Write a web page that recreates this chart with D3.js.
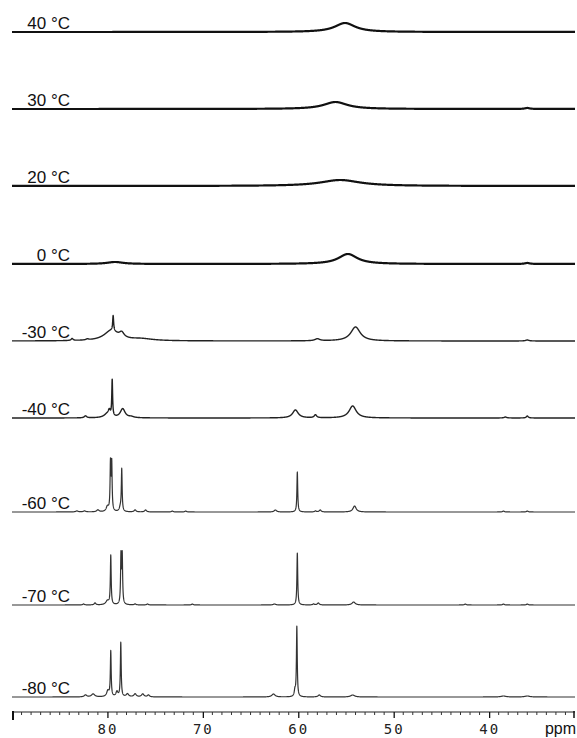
<!DOCTYPE html>
<html>
<head>
<meta charset="utf-8">
<script src="https://cdn.jsdelivr.net/npm/d3@7"></script>
<style>
  html, body { margin: 0; padding: 0; background: #fff; }
  svg { display: block; }
</style>
</head>
<body>
<svg id="chart" width="577" height="738"></svg>
<script>
// ── Datos: espectros apilados, de abajo (-80 °C) hacia arriba (40 °C) ──
const temps   = ["-80 °C", "-70 °C", "-60 °C", "-40 °C", "-30 °C", "0 °C", "20 °C", "30 °C", "40 °C"];
const offsets = [0, 92, 185, 279, 356, 433, 511, 588, 665]; // desplazamiento vertical (intensidad)

// cada pico: [ppm, altura, semi-ancho ppm]
const peaksM80 = [
  [82.3, 2, 0.15], [81.5, 3, 0.2], [79.95, 6, 0.15], [79.65, 45, 0.05], [79.0, 5, 0.12],
  [78.6, 54, 0.05], [77.9, 3, 0.15], [77.1, 3, 0.15], [76.3, 3, 0.15], [75.7, 2, 0.12],
  [62.6, 3, 0.2], [60.35, 6, 0.08], [60.15, 70, 0.05], [57.8, 2, 0.15], [54.3, 2, 0.25],
  [38.5, 1, 0.3], [36.0, 1, 0.3]
];
const peaksM70 = [
  [82.5, 1, 0.1], [81.3, 2, 0.1], [80.0, 4, 0.2], [79.65, 49, 0.05], [78.58, 48, 0.05],
  [78.45, 48, 0.05], [77.1, 1, 0.1], [75.8, 1, 0.1], [71.1, 1, 0.1], [62.5, 1, 0.15],
  [60.1, 52, 0.05], [58.4, 1, 0.1], [57.9, 2, 0.12], [54.2, 3, 0.2], [42.5, 1, 0.1],
  [38.5, 1, 0.1], [36.0, 1, 0.1]
];
const peaksM60 = [
  [83.2, 1, 0.15], [82.4, 1, 0.15], [81.0, 2, 0.15], [80.0, 5, 0.15], [79.68, 47, 0.05],
  [79.55, 47, 0.05], [78.65, 4, 0.12], [78.5, 42, 0.05], [77.1, 2, 0.12], [76.0, 2, 0.12],
  [73.2, 1, 0.1], [71.8, 1, 0.1], [62.4, 2, 0.15], [60.1, 40, 0.05], [58.2, 1, 0.1],
  [57.7, 2, 0.12], [54.1, 6, 0.2], [38.5, 1, 0.1], [36.0, 1, 0.1]
];
const peaksM40 = [
  [82.3, 2, 0.15], [80.0, 4, 0.4], [79.8, 5, 0.12], [79.5, 36, 0.05], [78.4, 9, 0.3],
  [77.5, 1, 0.3], [60.3, 8, 0.35], [58.2, 3, 0.15], [54.3, 12, 0.45], [38.3, 1, 0.15],
  [36.0, 2, 0.12]
];
const peaksM30 = [
  [83.7, 2, 0.12], [82.1, 1, 0.15], [79.6, 10, 0.9], [79.4, 15, 0.06], [78.5, 5, 0.3],
  [76.5, 2, 1.5], [58.0, 2, 0.3], [54.0, 14, 0.6], [36.0, 1, 0.2]
];
const peaks0   = [[79.2, 2, 1.0], [54.8, 10, 1.2], [36.0, 1, 0.3]];
const peaks20  = [[55.6, 6, 2.5]];
const peaks30  = [[56.1, 7, 1.5], [36.0, 1, 0.3]];
const peaks40  = [[55.1, 9, 1.3]];

const allPeaks = [peaksM80, peaksM70, peaksM60, peaksM40, peaksM30, peaks0, peaks20, peaks30, peaks40];

const ppmDomain = [90, 31];
const majorTicks = [80, 70, 60, 50, 40];

// ── Escalas ──
const svg = d3.select("#chart");
const x = d3.scaleLinear().domain(ppmDomain).range([12, 575]);
const y = d3.scaleLinear().domain([0, 665]).range([697, 32]);

// forma de línea lorentziana a partir de la lista de picos
const grid = d3.range(ppmDomain[1], ppmDomain[0] + 0.001, 0.01);
function spectrum(peaks) {
  return grid.map(p => [p, d3.sum(peaks, ([c, h, w]) => h / (1 + ((p - c) / w) ** 2))]);
}

const line = d3.line().x(d => x(d[0])).y(d => d[1]);

// ── Trazas ──
const traces = svg.append("g").selectAll("g")
  .data(temps.map((t, i) => ({ label: t, off: offsets[i], peaks: allPeaks[i], i })))
  .join("g");

traces.append("path")
  .attr("fill", "none")
  .attr("stroke", d => d.i >= 5 ? "#111" : (d.i >= 3 ? "#222" : "#333"))
  .attr("stroke-width", d => d.i >= 5 ? 2.2 : (d.i >= 3 ? 1.4 : 1.2))
  .attr("stroke-linejoin", "round")
  .attr("d", d => line(spectrum(d.peaks).map(([p, v]) => [p, y(d.off + v)])));

traces.append("text")
  .attr("x", 70)
  .attr("y", d => y(d.off) - 3)
  .attr("text-anchor", "end")
  .attr("font-family", "'Liberation Sans', Arial, sans-serif")
  .attr("font-size", 17)
  .attr("fill", "#111")
  .text(d => d.label);

// ── Eje ppm ──
const axisY = 712;
const axisG = svg.append("g").attr("transform", `translate(0,${axisY})`);

axisG.append("line")
  .attr("x1", x(ppmDomain[0])).attr("x2", x(ppmDomain[1]))
  .attr("stroke", "#222").attr("stroke-width", 1.2);

// marcas menores
axisG.append("g").selectAll("line")
  .data(d3.range(32, 90, 1).filter(v => !majorTicks.includes(v)))
  .join("line")
  .attr("x1", d => x(d)).attr("x2", d => x(d))
  .attr("y1", 0).attr("y2", 3)
  .attr("stroke", "#333").attr("stroke-width", 1);

axisG.append("g")
  .call(d3.axisBottom(x).tickValues(majorTicks).tickSize(6).tickFormat(d3.format("d")))
  .call(g => g.select(".domain").remove())
  .call(g => g.selectAll(".tick line").attr("stroke", "#111").attr("stroke-width", 1.3))
  .call(g => g.selectAll(".tick text")
    .attr("y", 22).attr("dy", 0)
    .attr("font-family", "'DejaVu Sans Mono', monospace")
    .attr("font-size", 14)
    .attr("letter-spacing", "2px")
    .attr("fill", "#222"));

// marcas de los extremos
axisG.append("line")
  .attr("x1", x(ppmDomain[0]) + 1).attr("x2", x(ppmDomain[0]) + 1)
  .attr("y1", -1).attr("y2", 8)
  .attr("stroke", "#111").attr("stroke-width", 2);
axisG.append("line")
  .attr("x1", x(ppmDomain[1]) - 1).attr("x2", x(ppmDomain[1]) - 1)
  .attr("y1", -1).attr("y2", 6)
  .attr("stroke", "#111").attr("stroke-width", 1.5);

axisG.append("text")
  .attr("x", 576).attr("y", 22)
  .attr("text-anchor", "end")
  .attr("font-family", "'Liberation Sans', Arial, sans-serif")
  .attr("font-size", 16)
  .attr("fill", "#111")
  .text("ppm");
</script>
</body>
</html>
